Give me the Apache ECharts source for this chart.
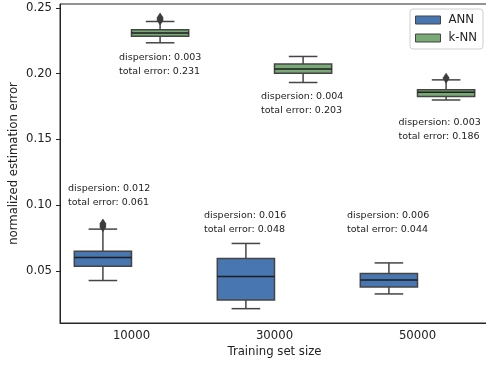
<!DOCTYPE html>
<html><head><meta charset="utf-8">
<script src="https://cdn.jsdelivr.net/npm/echarts@6/dist/echarts.min.js"></script>
<style>html,body{margin:0;padding:0;background:#fff}#c{width:486px;height:365px}</style>
</head><body><div id="c"></div>
<script>
// ---- data ----
const categories = ['10000', '30000', '50000'];
const yTicks = [0.05, 0.10, 0.15, 0.20, 0.25];
// [lower whisker, Q1, median, Q3, upper whisker]
const annBoxes = [
  [0.0427, 0.0536, 0.0602, 0.0650, 0.0818],
  [0.0213, 0.0279, 0.0457, 0.0595, 0.0709],
  [0.0325, 0.0378, 0.0431, 0.0480, 0.0561]
];
const knnBoxes = [
  [0.2235, 0.2285, 0.2310, 0.2335, 0.2397],
  [0.1933, 0.2004, 0.2035, 0.2073, 0.2131],
  [0.1800, 0.1826, 0.1858, 0.1877, 0.1953]
];
// [category index, value]
const annOutliers = [[0, 0.0833], [0, 0.0840], [0, 0.0848], [0, 0.0855], [0, 0.0860]];
const knnOutliers = [[0, 0.2405], [0, 0.2412], [0, 0.2420], [0, 0.2428], [2, 0.1962], [2, 0.1970]];
const annDispersion = ['0.012', '0.016', '0.006'];
const annTotal = ['0.061', '0.048', '0.044'];
const knnDispersion = ['0.003', '0.004', '0.003'];
const knnTotal = ['0.231', '0.203', '0.186'];
// annotation anchors (left edge): x offset in category units from category centre, y in data units
const annNoteX = [-0.444, -0.493, -0.493];
const annNoteY = [0.113, 0.0925, 0.0925];
const knnNoteX = [-0.087, -0.094, -0.133];
const knnNoteY = [0.2121, 0.1824, 0.1626];

// ---- styles ----
const ANN_COLOR = '#4876b1';
const KNN_COLOR = '#79a975';
const EDGE = '#454545';
const TXT = '#222';
const FONT = '"DejaVu Sans", sans-serif';
const FS = 11.7;

function boxRenderer(offsetFrac, fill) {
  return function (params, api) {
    const cat = api.value(0);
    const band = api.size([1, 0])[0];
    const cx = api.coord([cat, api.value(3)])[0] + offsetFrac * band;
    const w = band * 0.4;
    const capW = w * 0.5;
    const y = i => api.coord([cat, api.value(i)])[1];
    const lo = y(1), q1 = y(2), md = y(3), q3 = y(4), hi = y(5);
    const ls = { stroke: EDGE, lineWidth: 1.5 };
    return {
      type: 'group',
      children: [
        { type: 'line', shape: { x1: cx, y1: q3, x2: cx, y2: hi }, style: ls },
        { type: 'line', shape: { x1: cx, y1: q1, x2: cx, y2: lo }, style: ls },
        { type: 'line', shape: { x1: cx - capW / 2, y1: hi, x2: cx + capW / 2, y2: hi }, style: ls },
        { type: 'line', shape: { x1: cx - capW / 2, y1: lo, x2: cx + capW / 2, y2: lo }, style: ls },
        { type: 'rect', shape: { x: cx - w / 2, y: q3, width: w, height: q1 - q3 }, style: { fill: fill, stroke: EDGE, lineWidth: 1.5 } },
        { type: 'line', shape: { x1: cx - w / 2, y1: md, x2: cx + w / 2, y2: md }, style: { stroke: '#1e1e1e', lineWidth: 1.5 } }
      ]
    };
  };
}
function outlierRenderer(offsetFrac) {
  return function (params, api) {
    const cat = api.value(0);
    const band = api.size([1, 0])[0];
    const p = api.coord([cat, api.value(1)]);
    const cx = p[0] + offsetFrac * band, cy = p[1];
    return {
      type: 'polygon',
      shape: { points: [[cx, cy - 4.5], [cx + 3, cy], [cx, cy + 4.5], [cx - 3, cy]] },
      style: { fill: '#3d3d3d', stroke: '#3d3d3d', lineWidth: 0.5 }
    };
  };
}
function noteRenderer(xs, disp, tot) {
  return function (params, api) {
    const i = params.dataIndex;
    const band = api.size([1, 0])[0];
    const p = api.coord([api.value(0), api.value(1)]);
    return {
      type: 'text',
      x: p[0] + xs[i] * band,
      y: p[1] - 7,
      style: {
        text: 'dispersion: ' + disp[i] + '\ntotal error: ' + tot[i],
        font: '9.5px ' + FONT, fill: TXT, align: 'left', verticalAlign: 'top', lineHeight: 14
      }
    };
  };
}

const chart = echarts.init(document.getElementById('c'), null, { renderer: 'canvas' });
chart.setOption({
  animation: false,
  backgroundColor: '#fff',
  textStyle: { fontFamily: FONT },
  grid: { left: 60, right: -3, top: 4, bottom: 42, show: true, borderColor: '#262626', borderWidth: 1, outerBoundsMode: 'none' },
  legend: {
    orient: 'vertical', left: 410, top: 9,
    data: [
      { name: 'ANN', itemStyle: { color: ANN_COLOR, borderColor: EDGE, borderWidth: 1 } },
      { name: 'k-NN', itemStyle: { color: KNN_COLOR, borderColor: EDGE, borderWidth: 1 } }
    ],
    icon: 'rect', itemWidth: 25, itemHeight: 8, itemGap: 6,
    padding: [5, 6, 5, 5], backgroundColor: '#fff', borderColor: '#cfcfcf', borderWidth: 1, borderRadius: 3,
    textStyle: { fontSize: FS, color: TXT, fontFamily: FONT, padding: [0, 0, 0, 3] }
  },
  xAxis: {
    type: 'category', data: categories,
    name: 'Training set size', nameLocation: 'middle', nameGap: 23, nameMoveOverlap: false,
    nameTextStyle: { fontSize: FS, color: TXT, fontFamily: FONT },
    axisLine: { lineStyle: { color: '#262626', width: 1 } },
    axisTick: { alignWithLabel: true, length: 4, lineStyle: { color: '#262626' } },
    axisLabel: { fontSize: FS, margin: 7, color: TXT, fontFamily: FONT },
    splitLine: { show: false }
  },
  yAxis: {
    type: 'value', min: 0.0104, max: 0.253,
    name: 'normalized estimation error', nameLocation: 'middle', nameGap: 40, nameMoveOverlap: false,
    nameTextStyle: { fontSize: FS, color: TXT, fontFamily: FONT },
    axisLine: { show: true, lineStyle: { color: '#262626', width: 1 } },
    axisTick: { show: true, length: 4, customValues: yTicks, lineStyle: { color: '#262626' } },
    axisLabel: { customValues: yTicks, formatter: v => v.toFixed(2), fontSize: FS, margin: 8, color: TXT, fontFamily: FONT },
    splitLine: { show: false }
  },
  series: [
    { type: 'custom', name: 'ANN', itemStyle: { color: ANN_COLOR }, renderItem: boxRenderer(-0.2, ANN_COLOR),
      encode: { x: 0, y: [1, 2, 3, 4, 5] }, data: annBoxes.map((b, i) => [i].concat(b)) },
    { type: 'custom', name: 'k-NN', itemStyle: { color: KNN_COLOR }, renderItem: boxRenderer(0.2, KNN_COLOR),
      encode: { x: 0, y: [1, 2, 3, 4, 5] }, data: knnBoxes.map((b, i) => [i].concat(b)) },
    { type: 'custom', name: 'ANN outliers', renderItem: outlierRenderer(-0.2), encode: { x: 0, y: 1 }, data: annOutliers },
    { type: 'custom', name: 'k-NN outliers', renderItem: outlierRenderer(0.2), encode: { x: 0, y: 1 }, data: knnOutliers },
    { type: 'custom', name: 'ANN notes', renderItem: noteRenderer(annNoteX, annDispersion, annTotal), encode: { x: 0, y: 1 },
      data: annNoteY.map((v, i) => [i, v]) },
    { type: 'custom', name: 'k-NN notes', renderItem: noteRenderer(knnNoteX, knnDispersion, knnTotal), encode: { x: 0, y: 1 },
      data: knnNoteY.map((v, i) => [i, v]) }
  ]
});
</script></body></html>
